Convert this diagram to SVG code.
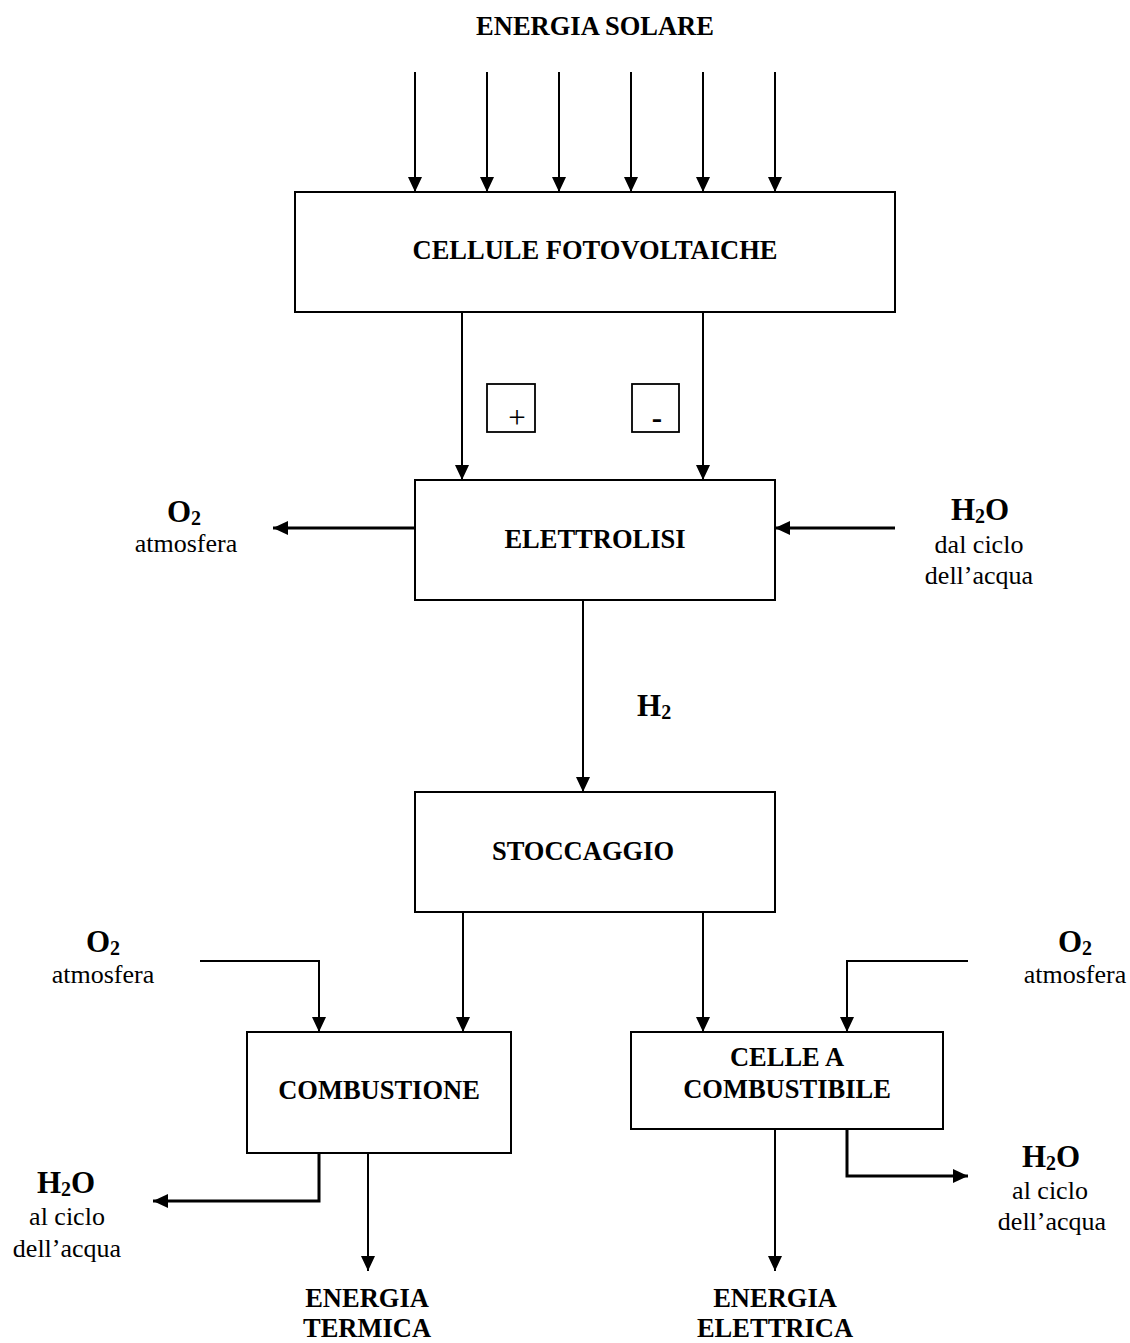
<svg xmlns="http://www.w3.org/2000/svg" width="1130" height="1343" viewBox="0 0 1130 1343">
<style>
text{font-family:"Liberation Serif","Times New Roman",serif;fill:#000}
.b{font-weight:bold;font-size:26.5px}
.r{font-size:26px}
.chem{font-weight:bold;font-size:31px}
.sub{font-size:20px}
.box{fill:#fff;stroke:#000;stroke-width:2}
.small{fill:#fff;stroke:#000;stroke-width:1.8}
.ln{fill:none;stroke:#000;stroke-width:2}
.thk{fill:none;stroke:#000;stroke-width:3}
</style>
<defs>
<marker id="ah" markerUnits="userSpaceOnUse" markerWidth="16" markerHeight="15" refX="15" refY="7" orient="auto">
<path d="M0,0 L15,7 L0,14 Z" fill="#000"/>
</marker>
</defs>
<rect width="1130" height="1343" fill="#fff"/>

<g id="connectors">
<line class="ln" x1="415" y1="72" x2="415" y2="192" marker-end="url(#ah)"/>
<line class="ln" x1="487" y1="72" x2="487" y2="192" marker-end="url(#ah)"/>
<line class="ln" x1="559" y1="72" x2="559" y2="192" marker-end="url(#ah)"/>
<line class="ln" x1="631" y1="72" x2="631" y2="192" marker-end="url(#ah)"/>
<line class="ln" x1="703" y1="72" x2="703" y2="192" marker-end="url(#ah)"/>
<line class="ln" x1="775" y1="72" x2="775" y2="192" marker-end="url(#ah)"/>
<line class="ln" x1="462" y1="312" x2="462" y2="480" marker-end="url(#ah)"/>
<line class="ln" x1="703" y1="312" x2="703" y2="480" marker-end="url(#ah)"/>
<line class="thk" x1="415" y1="528" x2="273" y2="528" marker-end="url(#ah)"/>
<line class="thk" x1="895" y1="528" x2="775" y2="528" marker-end="url(#ah)"/>
<line class="ln" x1="583" y1="600" x2="583" y2="792" marker-end="url(#ah)"/>
<line class="ln" x1="463" y1="912" x2="463" y2="1032" marker-end="url(#ah)"/>
<line class="ln" x1="703" y1="912" x2="703" y2="1032" marker-end="url(#ah)"/>
<path class="ln" d="M200,961 H319 V1032" marker-end="url(#ah)"/>
<path class="ln" d="M968,961 H847 V1032" marker-end="url(#ah)"/>
<path class="thk" d="M319,1153 V1201 H153" marker-end="url(#ah)"/>
<path class="ln" d="M368,1153 V1271" marker-end="url(#ah)"/>
<path class="ln" d="M775,1129 V1271" marker-end="url(#ah)"/>
<path class="thk" d="M847,1129 V1176 H968" marker-end="url(#ah)"/>
</g>

<g id="energia-solare">
<text class="b" x="595" y="35" text-anchor="middle">ENERGIA SOLARE</text>
</g>
<g id="cellule">
<rect class="box" x="295" y="192" width="600" height="120"/>
<text class="b" x="595" y="259" text-anchor="middle">CELLULE FOTOVOLTAICHE</text>
</g>
<g id="plus">
<rect class="small" x="487" y="384" width="48" height="48"/>
<text x="517" y="428" text-anchor="middle" font-size="31">+</text>
</g>
<g id="minus">
<rect class="small" x="632" y="384" width="47" height="48"/>
<text x="657" y="428" text-anchor="middle" font-size="31" font-weight="bold">-</text>
</g>
<g id="elettrolisi">
<rect class="box" x="415" y="480" width="360" height="120"/>
<text class="b" x="595" y="548" text-anchor="middle">ELETTROLISI</text>
</g>
<g id="o2-elettrolisi">
<text class="chem" x="184" y="522" text-anchor="middle">O<tspan class="sub" dy="3">2</tspan></text>
<text class="r" x="186" y="552" text-anchor="middle">atmosfera</text>
</g>
<g id="h2o-elettrolisi">
<text class="chem" x="980" y="520" text-anchor="middle">H<tspan class="sub" dy="3">2</tspan><tspan dy="-3">O</tspan></text>
<text class="r" x="979" y="553" text-anchor="middle">dal ciclo</text>
<text class="r" x="979" y="584" text-anchor="middle">dell’acqua</text>
</g>
<g id="h2-label">
<text class="chem" x="637" y="716">H<tspan class="sub" dy="3">2</tspan></text>
</g>
<g id="stoccaggio">
<rect class="box" x="415" y="792" width="360" height="120"/>
<text class="b" x="583" y="860" text-anchor="middle">STOCCAGGIO</text>
</g>
<g id="o2-left">
<text class="chem" x="103" y="952" text-anchor="middle">O<tspan class="sub" dy="3">2</tspan></text>
<text class="r" x="103" y="983" text-anchor="middle">atmosfera</text>
</g>
<g id="o2-right">
<text class="chem" x="1075" y="952" text-anchor="middle">O<tspan class="sub" dy="3">2</tspan></text>
<text class="r" x="1075" y="983" text-anchor="middle">atmosfera</text>
</g>
<g id="combustione">
<rect class="box" x="247" y="1032" width="264" height="121"/>
<text class="b" x="379" y="1099" text-anchor="middle">COMBUSTIONE</text>
</g>
<g id="celle">
<rect class="box" x="631" y="1032" width="312" height="97"/>
<text class="b" x="787" y="1066" text-anchor="middle">CELLE A</text>
<text class="b" x="787" y="1098" text-anchor="middle">COMBUSTIBILE</text>
</g>
<g id="h2o-left">
<text class="chem" x="66" y="1193" text-anchor="middle">H<tspan class="sub" dy="3">2</tspan><tspan dy="-3">O</tspan></text>
<text class="r" x="67" y="1225" text-anchor="middle">al ciclo</text>
<text class="r" x="67" y="1257" text-anchor="middle">dell’acqua</text>
</g>
<g id="h2o-right">
<text class="chem" x="1051" y="1167" text-anchor="middle">H<tspan class="sub" dy="3">2</tspan><tspan dy="-3">O</tspan></text>
<text class="r" x="1050" y="1199" text-anchor="middle">al ciclo</text>
<text class="r" x="1052" y="1230" text-anchor="middle">dell’acqua</text>
</g>
<g id="energia-termica">
<text class="b" x="367" y="1307" text-anchor="middle">ENERGIA</text>
<text class="b" x="367" y="1337" text-anchor="middle">TERMICA</text>
</g>
<g id="energia-elettrica">
<text class="b" x="775" y="1307" text-anchor="middle">ENERGIA</text>
<text class="b" x="775" y="1337" text-anchor="middle">ELETTRICA</text>
</g>
</svg>
